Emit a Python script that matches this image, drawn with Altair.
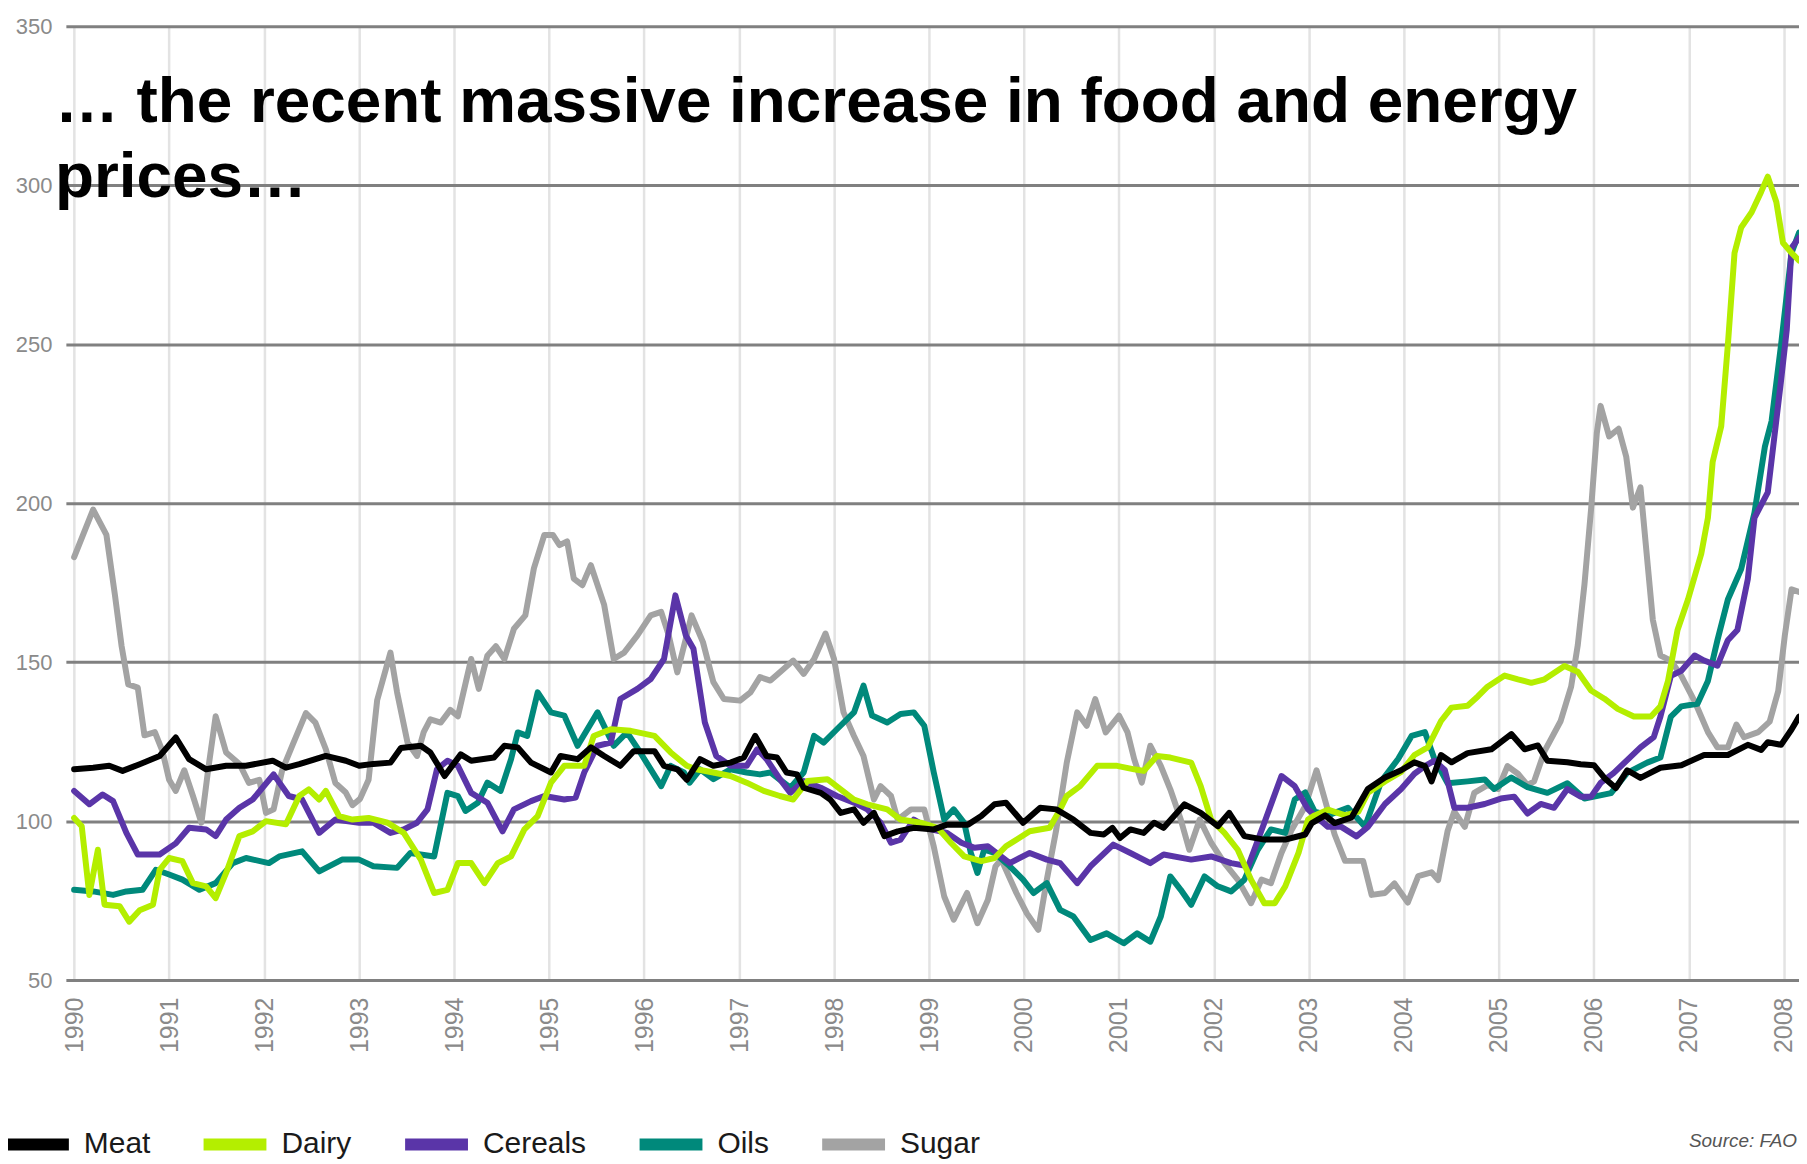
import altair as alt
import pandas as pd

# (year, index value) pairs
MEAT = [
    (1990.00, 116.3), (1990.20, 116.8), (1990.37, 117.4), (1990.51, 115.8), (1990.69, 117.9),
    (1990.90, 120.5), (1991.07, 126.3), (1991.21, 119.5), (1991.39, 116.3), (1991.60, 117.4),
    (1991.81, 117.4), (1992.09, 119.0), (1992.23, 116.8), (1992.37, 117.9), (1992.65, 120.5),
    (1992.86, 119.0), (1993.00, 117.4), (1993.15, 118.0), (1993.33, 118.4), (1993.44, 123.0),
    (1993.65, 123.7), (1993.75, 121.6), (1993.90, 114.2), (1994.07, 121.0), (1994.18, 119.0),
    (1994.42, 120.0), (1994.53, 123.7), (1994.67, 123.2), (1994.81, 118.4), (1995.02, 115.3),
    (1995.12, 120.5), (1995.30, 119.5), (1995.44, 123.2), (1995.58, 120.5), (1995.75, 117.4),
    (1995.89, 122.0), (1996.11, 122.0), (1996.21, 117.4), (1996.35, 116.3), (1996.45, 113.0),
    (1996.59, 119.5), (1996.73, 117.4), (1996.91, 118.4), (1997.05, 120.0), (1997.17, 126.8),
    (1997.29, 120.5), (1997.40, 120.0), (1997.50, 115.3), (1997.61, 114.7), (1997.68, 110.5),
    (1997.86, 108.9), (1997.96, 106.8), (1998.07, 102.6), (1998.21, 103.7), (1998.31, 99.5),
    (1998.42, 102.6), (1998.53, 95.3), (1998.67, 96.8), (1998.84, 97.9), (1999.05, 97.4),
    (1999.19, 98.9), (1999.41, 98.9), (1999.55, 101.6), (1999.69, 105.3), (1999.81, 105.8),
    (1999.99, 99.5), (2000.17, 104.2), (2000.34, 103.7), (2000.52, 100.5), (2000.70, 96.3),
    (2000.84, 95.8), (2000.93, 97.9), (2001.01, 94.7), (2001.12, 97.4), (2001.26, 96.3),
    (2001.37, 99.5), (2001.47, 97.9), (2001.69, 105.3), (2001.86, 102.6), (2002.04, 98.4),
    (2002.16, 102.6), (2002.32, 95.3), (2002.53, 94.2), (2002.75, 94.2), (2002.96, 95.8),
    (2003.03, 99.4), (2003.17, 101.8), (2003.27, 99.4), (2003.45, 101.2), (2003.62, 110.1),
    (2003.80, 113.7), (2003.97, 116.0), (2004.11, 118.5), (2004.22, 117.3), (2004.29, 112.5),
    (2004.39, 120.8), (2004.50, 118.5), (2004.67, 121.4), (2004.92, 122.6), (2005.13, 127.4),
    (2005.27, 122.6), (2005.41, 123.8), (2005.51, 119.0), (2005.72, 118.5), (2005.86, 117.9),
    (2006.00, 117.6), (2006.11, 113.6), (2006.23, 110.4), (2006.35, 116.0), (2006.49, 113.6),
    (2006.70, 116.8), (2006.92, 117.6), (2007.16, 120.8), (2007.41, 120.8), (2007.62, 124.0),
    (2007.76, 122.4), (2007.83, 124.8), (2007.97, 124.0), (2008.08, 128.8), (2008.16, 132.9),
]

DAIRY = [
    (1990.00, 101.0), (1990.08, 98.4), (1990.16, 76.8), (1990.25, 91.0), (1990.32, 73.7),
    (1990.48, 73.2), (1990.58, 68.4), (1990.69, 72.0), (1990.83, 73.7), (1990.90, 84.7),
    (1991.00, 88.4), (1991.14, 87.4), (1991.25, 80.5), (1991.39, 79.5), (1991.49, 75.8),
    (1991.60, 83.7), (1991.74, 95.3), (1991.88, 96.8), (1992.02, 100.0), (1992.23, 99.0),
    (1992.37, 107.9), (1992.47, 110.0), (1992.58, 106.8), (1992.65, 109.5), (1992.79, 101.6),
    (1992.93, 100.5), (1993.10, 101.0), (1993.30, 99.5), (1993.47, 96.3), (1993.65, 87.9),
    (1993.79, 77.4), (1993.93, 78.4), (1994.04, 86.8), (1994.18, 86.8), (1994.32, 80.5),
    (1994.46, 86.8), (1994.60, 88.9), (1994.74, 97.4), (1994.88, 101.6), (1995.02, 112.1),
    (1995.16, 117.4), (1995.37, 117.4), (1995.47, 126.8), (1995.65, 128.9), (1995.86, 128.4),
    (1996.11, 126.8), (1996.28, 121.6), (1996.45, 117.4), (1996.55, 116.3), (1996.73, 115.3),
    (1996.91, 114.2), (1997.08, 112.1), (1997.26, 109.5), (1997.43, 107.9), (1997.57, 106.8),
    (1997.72, 112.6), (1997.93, 113.2), (1998.07, 110.0), (1998.21, 106.8), (1998.35, 105.3),
    (1998.56, 103.7), (1998.70, 100.5), (1998.91, 99.5), (1999.09, 97.9), (1999.23, 93.2),
    (1999.37, 88.9), (1999.55, 87.4), (1999.69, 88.4), (1999.81, 92.1), (2000.06, 96.8),
    (2000.27, 97.9), (2000.38, 103.7), (2000.45, 107.9), (2000.59, 111.0), (2000.77, 117.4),
    (2000.98, 117.4), (2001.16, 116.3), (2001.26, 115.8), (2001.40, 120.5), (2001.54, 120.0),
    (2001.76, 118.4), (2001.86, 111.0), (2001.97, 100.5), (2002.11, 96.3), (2002.25, 91.0),
    (2002.39, 81.6), (2002.53, 74.2), (2002.64, 74.2), (2002.75, 79.5), (2002.89, 90.0),
    (2002.99, 100.5), (2003.06, 101.8), (2003.20, 103.6), (2003.38, 101.8), (2003.52, 103.0),
    (2003.62, 108.9), (2003.80, 112.5), (2003.97, 115.5), (2004.11, 120.8), (2004.25, 123.2),
    (2004.39, 131.5), (2004.50, 135.7), (2004.67, 136.3), (2004.78, 139.3), (2004.88, 142.3),
    (2005.06, 145.8), (2005.20, 144.6), (2005.34, 143.5), (2005.48, 144.6), (2005.69, 148.8),
    (2005.83, 147.0), (2005.97, 141.1), (2006.11, 138.5), (2006.25, 135.3), (2006.42, 132.9),
    (2006.60, 132.9), (2006.70, 136.1), (2006.78, 144.1), (2006.88, 160.1), (2006.99, 169.7),
    (2007.13, 184.1), (2007.20, 195.4), (2007.25, 213.0), (2007.34, 224.2), (2007.41, 249.8),
    (2007.48, 278.7), (2007.55, 286.7), (2007.66, 291.5), (2007.76, 297.9), (2007.83, 302.7),
    (2007.92, 294.7), (2007.99, 281.9), (2008.08, 278.7), (2008.16, 276.3),
]

CEREALS = [
    (1990.00, 109.5), (1990.16, 105.3), (1990.30, 108.4), (1990.41, 106.3), (1990.55, 96.3),
    (1990.67, 89.5), (1990.90, 89.5), (1991.07, 93.0), (1991.21, 97.9), (1991.39, 97.4),
    (1991.49, 95.3), (1991.60, 100.5), (1991.74, 104.2), (1991.88, 106.8), (1992.10, 114.7),
    (1992.26, 107.9), (1992.40, 106.8), (1992.58, 96.3), (1992.75, 100.5), (1993.00, 99.5),
    (1993.15, 99.5), (1993.33, 96.3), (1993.47, 97.4), (1993.61, 99.5), (1993.72, 103.7),
    (1993.82, 116.3), (1993.93, 119.0), (1994.04, 117.4), (1994.18, 108.9), (1994.35, 105.8),
    (1994.51, 96.8), (1994.63, 103.7), (1994.81, 106.3), (1994.95, 107.9), (1995.16, 106.8),
    (1995.28, 107.4), (1995.37, 115.3), (1995.51, 123.7), (1995.65, 124.7), (1995.75, 138.4),
    (1995.93, 141.6), (1996.07, 144.7), (1996.21, 151.0), (1996.33, 171.0), (1996.44, 158.4),
    (1996.52, 154.2), (1996.64, 131.0), (1996.76, 120.5), (1996.91, 117.4), (1997.08, 117.4),
    (1997.19, 122.6), (1997.29, 119.5), (1997.43, 113.2), (1997.54, 108.9), (1997.68, 112.6),
    (1997.86, 110.5), (1998.03, 107.9), (1998.21, 105.8), (1998.35, 103.7), (1998.49, 99.5),
    (1998.60, 93.2), (1998.70, 94.2), (1998.84, 100.5), (1999.02, 97.4), (1999.19, 96.3),
    (1999.34, 93.2), (1999.48, 91.6), (1999.62, 92.1), (1999.85, 86.8), (2000.06, 90.0),
    (2000.24, 87.9), (2000.38, 86.8), (2000.56, 80.5), (2000.70, 85.8), (2000.94, 92.6),
    (2001.12, 90.0), (2001.33, 86.8), (2001.47, 89.5), (2001.76, 87.9), (2001.97, 88.9),
    (2002.18, 86.8), (2002.36, 85.8), (2002.53, 99.5), (2002.71, 114.2), (2002.85, 111.0),
    (2002.99, 103.7), (2003.06, 101.8), (2003.20, 98.2), (2003.34, 98.2), (2003.50, 95.2),
    (2003.62, 98.2), (2003.80, 105.4), (2003.97, 110.1), (2004.11, 114.9), (2004.22, 117.3),
    (2004.32, 119.0), (2004.43, 116.1), (2004.53, 104.2), (2004.67, 104.2), (2004.85, 105.4),
    (2005.02, 107.1), (2005.16, 107.7), (2005.30, 102.4), (2005.44, 105.4), (2005.58, 104.2),
    (2005.72, 110.1), (2005.86, 107.7), (2005.97, 107.7), (2006.07, 112.0), (2006.21, 115.2),
    (2006.35, 119.2), (2006.49, 123.2), (2006.63, 126.4), (2006.70, 132.9), (2006.81, 145.7),
    (2006.92, 147.3), (2007.06, 152.1), (2007.16, 150.5), (2007.30, 148.9), (2007.41, 156.9),
    (2007.51, 160.1), (2007.62, 176.1), (2007.69, 195.4), (2007.83, 203.4), (2007.90, 221.0),
    (2007.97, 238.6), (2008.03, 254.6), (2008.08, 280.3), (2008.16, 283.5),
]

OILS = [
    (1990.00, 78.4), (1990.20, 77.9), (1990.41, 76.8), (1990.55, 77.9), (1990.72, 78.4),
    (1990.86, 84.7), (1991.00, 83.2), (1991.14, 81.6), (1991.32, 78.4), (1991.49, 80.5),
    (1991.67, 86.8), (1991.81, 88.4), (1992.05, 86.8), (1992.16, 88.9), (1992.40, 90.5),
    (1992.58, 84.2), (1992.82, 87.9), (1993.00, 87.9), (1993.15, 85.8), (1993.40, 85.3),
    (1993.54, 90.0), (1993.79, 88.9), (1993.93, 108.9), (1994.04, 107.9), (1994.12, 103.2),
    (1994.25, 105.8), (1994.35, 112.1), (1994.49, 109.5), (1994.60, 119.5), (1994.67, 127.9),
    (1994.77, 126.8), (1994.88, 140.5), (1995.02, 134.2), (1995.16, 133.2), (1995.30, 123.7),
    (1995.51, 134.2), (1995.68, 123.7), (1995.82, 127.9), (1995.96, 121.6), (1996.18, 111.0),
    (1996.28, 117.4), (1996.42, 115.3), (1996.48, 112.1), (1996.59, 116.3), (1996.73, 113.2),
    (1996.91, 116.3), (1997.08, 115.3), (1997.22, 114.7), (1997.33, 115.3), (1997.54, 110.5),
    (1997.68, 115.3), (1997.79, 126.8), (1997.89, 124.7), (1998.03, 128.9), (1998.21, 134.2),
    (1998.31, 142.6), (1998.40, 133.2), (1998.56, 131.0), (1998.70, 133.7), (1998.84, 134.2),
    (1998.95, 130.0), (1999.05, 115.3), (1999.16, 100.5), (1999.26, 103.7), (1999.37, 99.5),
    (1999.44, 90.0), (1999.51, 83.7), (1999.58, 91.0), (1999.69, 90.0), (1999.85, 85.8),
    (1999.99, 81.6), (2000.10, 77.4), (2000.24, 80.5), (2000.38, 72.1), (2000.52, 70.0),
    (2000.70, 62.6), (2000.87, 64.7), (2001.05, 61.6), (2001.19, 64.7), (2001.33, 62.1),
    (2001.44, 70.0), (2001.54, 82.6), (2001.65, 78.4), (2001.76, 73.7), (2001.90, 82.6),
    (2002.04, 79.5), (2002.18, 77.9), (2002.32, 81.6), (2002.46, 91.0), (2002.60, 97.4),
    (2002.75, 96.3), (2002.85, 106.8), (2002.96, 109.0), (2003.06, 103.0), (2003.20, 101.8),
    (2003.41, 104.2), (2003.59, 98.2), (2003.76, 112.5), (2003.94, 119.6), (2004.08, 126.8),
    (2004.22, 128.0), (2004.32, 119.6), (2004.46, 111.9), (2004.67, 112.5), (2004.85, 113.1),
    (2004.95, 110.1), (2005.13, 113.7), (2005.30, 110.7), (2005.51, 108.9), (2005.72, 111.9),
    (2005.90, 107.1), (2006.18, 108.8), (2006.35, 115.2), (2006.56, 118.4), (2006.70, 120.0),
    (2006.81, 132.9), (2006.92, 136.1), (2007.09, 136.9), (2007.20, 144.1), (2007.30, 156.9),
    (2007.41, 169.7), (2007.55, 179.3), (2007.69, 197.0), (2007.80, 217.8), (2007.87, 225.8),
    (2007.97, 249.8), (2008.08, 278.7), (2008.16, 285.1),
]

SUGAR = [
    (1990.00, 183.0), (1990.20, 198.0), (1990.34, 190.0), (1990.43, 171.0), (1990.50, 155.0),
    (1990.57, 143.0), (1990.67, 142.0), (1990.74, 127.0), (1990.85, 128.0), (1990.93, 122.0),
    (1991.00, 113.0), (1991.07, 109.5), (1991.16, 116.0), (1991.25, 108.0), (1991.34, 99.5),
    (1991.41, 116.0), (1991.49, 133.0), (1991.60, 121.6), (1991.74, 118.0), (1991.84, 112.0),
    (1991.95, 113.0), (1992.02, 102.6), (1992.10, 103.7), (1992.19, 116.0), (1992.30, 124.0),
    (1992.44, 134.0), (1992.54, 131.0), (1992.65, 122.6), (1992.75, 112.0), (1992.86, 109.0),
    (1992.93, 105.0), (1993.01, 107.0), (1993.10, 113.0), (1993.19, 138.0), (1993.33, 153.0),
    (1993.40, 140.5), (1993.51, 124.7), (1993.61, 120.5), (1993.68, 128.0), (1993.75, 132.0),
    (1993.86, 131.0), (1993.96, 135.0), (1994.04, 133.0), (1994.18, 151.0), (1994.26, 141.6),
    (1994.35, 152.0), (1994.44, 155.0), (1994.53, 151.0), (1994.63, 160.5), (1994.75, 164.7),
    (1994.84, 179.5), (1994.95, 190.0), (1995.04, 190.0), (1995.11, 186.8), (1995.19, 188.0),
    (1995.26, 176.3), (1995.35, 174.2), (1995.44, 180.5), (1995.58, 168.0), (1995.68, 151.0),
    (1995.79, 153.0), (1995.93, 158.4), (1996.07, 164.7), (1996.18, 165.8), (1996.26, 158.4),
    (1996.35, 146.8), (1996.44, 157.4), (1996.50, 164.7), (1996.62, 156.3), (1996.73, 143.7),
    (1996.84, 138.4), (1997.01, 137.9), (1997.12, 140.5), (1997.22, 145.3), (1997.33, 144.2),
    (1997.43, 146.8), (1997.57, 150.5), (1997.68, 146.3), (1997.79, 151.0), (1997.91, 159.0),
    (1998.00, 151.0), (1998.10, 134.2), (1998.21, 126.8), (1998.31, 120.5), (1998.42, 106.8),
    (1998.49, 111.0), (1998.60, 107.9), (1998.67, 100.5), (1998.81, 103.7), (1998.95, 103.7),
    (1999.05, 92.0), (1999.16, 76.3), (1999.26, 69.0), (1999.40, 77.4), (1999.51, 67.9),
    (1999.62, 75.3), (1999.70, 85.8), (1999.76, 88.0), (1999.92, 77.4), (2000.03, 71.0),
    (2000.15, 65.8), (2000.24, 81.6), (2000.34, 97.4), (2000.45, 118.4), (2000.56, 134.2),
    (2000.66, 130.0), (2000.75, 138.4), (2000.86, 127.9), (2001.00, 133.2), (2001.09, 127.9),
    (2001.16, 119.5), (2001.24, 112.1), (2001.33, 123.7), (2001.44, 117.4), (2001.54, 110.0),
    (2001.65, 100.5), (2001.74, 91.0), (2001.85, 100.5), (2001.97, 93.2), (2002.11, 86.8),
    (2002.25, 81.6), (2002.39, 74.2), (2002.50, 81.6), (2002.60, 80.5), (2002.71, 90.0),
    (2002.82, 97.4), (2002.96, 104.7), (2003.08, 116.0), (2003.17, 106.5), (2003.27, 95.8),
    (2003.38, 87.5), (2003.57, 87.5), (2003.66, 76.8), (2003.80, 77.4), (2003.90, 80.4),
    (2004.04, 74.4), (2004.15, 82.7), (2004.29, 83.9), (2004.36, 81.5), (2004.46, 97.0),
    (2004.53, 103.0), (2004.64, 98.2), (2004.74, 108.9), (2004.88, 111.3), (2004.99, 110.1),
    (2005.09, 117.3), (2005.20, 114.9), (2005.30, 111.3), (2005.37, 112.5), (2005.48, 122.0),
    (2005.65, 131.5), (2005.76, 142.3), (2005.83, 155.4), (2005.90, 174.4), (2005.97, 198.2),
    (2006.03, 222.0), (2006.07, 230.6), (2006.16, 221.0), (2006.26, 223.4), (2006.34, 214.6),
    (2006.41, 198.6), (2006.49, 205.0), (2006.55, 185.7), (2006.62, 163.3), (2006.70, 152.1),
    (2006.81, 150.5), (2006.92, 145.7), (2007.06, 137.7), (2007.20, 128.0), (2007.30, 123.2),
    (2007.41, 123.2), (2007.50, 130.4), (2007.58, 126.4), (2007.73, 128.0), (2007.85, 131.3),
    (2007.94, 140.9), (2008.01, 158.5), (2008.08, 172.9), (2008.16, 172.1),
]

SERIES = ["Meat", "Dairy", "Cereals", "Oils", "Sugar"]
COLORS = ["#000000", "#b4ee00", "#5a35a8", "#00897b", "#a3a3a3"]
DRAW_ORDER = ["Sugar", "Oils", "Cereals", "Dairy", "Meat"]
Y_TICKS = [50, 100, 150, 200, 250, 300, 350]
X_TICKS = list(range(1990, 2009))
TITLE = "\u2026 the recent massive increase in food and energy\nprices\u2026"
SOURCE = "Source: FAO"

FONT = "Liberation Sans"

DATA = {"Meat": MEAT, "Dairy": DAIRY, "Cereals": CEREALS, "Oils": OILS, "Sugar": SUGAR}
frames = []
for name in DRAW_ORDER:
    pts = DATA[name]
    frames.append(pd.DataFrame({"year": [p[0] for p in pts],
                                "value": [p[1] for p in pts],
                                "series": name}))
df = pd.concat(frames, ignore_index=True)

W, H = 1737, 956
x_scale = alt.Scale(domain=[1989.913, 1989.913 + W / 95.2], nice=False, zero=False)
y_scale = alt.Scale(domain=[50, 350], nice=False, zero=False)
color_scale = alt.Scale(domain=SERIES, range=COLORS)

x_axis = alt.Axis(values=X_TICKS, format="d", labelAngle=270, labelFont=FONT,
                  labelFontSize=25, labelColor="#8a8a8a", labelPadding=17,
                  labelFlush=False, labelOverlap=False, ticks=False, domain=False,
                  grid=True, gridColor="#e3e3e3", gridWidth=2.5, title=None)
y_axis = alt.Axis(values=Y_TICKS, labelFont=FONT, labelFontSize=22,
                  labelColor="#8a8a8a", labelPadding=14, ticks=False, domain=False,
                  grid=True, gridColor="#808080", gridWidth=3, title=None)

legend = alt.Legend(title=None, orient="none", direction="horizontal",
                    legendX=-66, legendY=1083, symbolType="stroke", symbolSize=3969,
                    symbolStrokeWidth=12, labelFont=FONT, labelFontSize=30,
                    labelColor="#1a1a1a", labelOffset=9, columnPadding=29,
                    labelLimit=300)

x_enc = alt.X("year:Q", scale=x_scale, axis=x_axis)
y_enc = alt.Y("value:Q", scale=y_scale, axis=y_axis)
c_enc = alt.Color("series:N", scale=color_scale, legend=legend)

base = alt.Chart(df)
layers = []
for name in DRAW_ORDER:
    layers.append(
        base.transform_filter(alt.datum.series == name)
        .mark_line(strokeWidth=6, strokeJoin="round", strokeCap="round")
        .encode(x=x_enc, y=y_enc, color=c_enc)
    )

title_layer = alt.Chart(pd.DataFrame({"label": [TITLE]})).mark_text(
    align="left", baseline="alphabetic", font=FONT, fontWeight="bold",
    fontSize=64, lineHeight=75, lineBreak="\n", color="#000000"
).encode(text="label:N", x=alt.value(-11), y=alt.value(96))

source_layer = alt.Chart(pd.DataFrame({"label": [SOURCE]})).mark_text(
    align="right", baseline="middle", font=FONT, fontStyle="italic",
    fontSize=19, color="#555555"
).encode(text="label:N", x=alt.value(W - 2), y=alt.value(1117))

chart = alt.layer(*layers, title_layer, source_layer).properties(
    width=W, height=H,
    autosize=alt.AutoSizeParams(type="none"),
    padding={"left": 58, "top": 17, "right": 0, "bottom": 178},
    background="#ffffff",
).configure_view(stroke=None)

chart.save("out.html", embed_options={"renderer": "svg", "actions": False})
